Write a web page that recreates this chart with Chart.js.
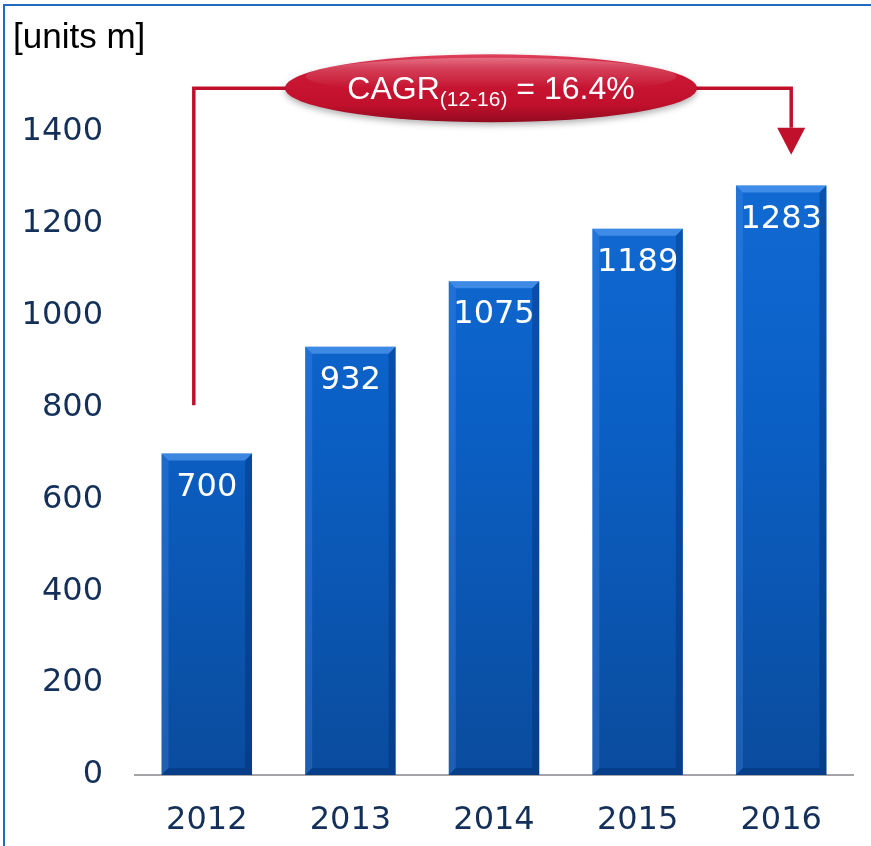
<!DOCTYPE html>
<html>
<head>
<meta charset="utf-8">
<script src="https://cdn.jsdelivr.net/npm/chart.js@4"></script>
<style>
  html, body { margin: 0; padding: 0; background: #fff; }
  #wrap { position: relative; width: 871px; height: 846px; }
  #frame { position: absolute; left: 3px; top: 4px; right: 0; bottom: 0;
           border-left: 2px solid #1f6cbf; border-top: 2px solid #1f6cbf; pointer-events: none; }
  #unit { position: absolute; left: 13px; top: 16px; font: 35px "Liberation Sans", Arial, sans-serif; color: #000; }
</style>
</head>
<body>
<div id="wrap">
  <canvas id="myChart" width="871" height="846"></canvas>
  <div id="frame"></div>
  <div id="unit">[units m]</div>
</div>
<script>
const years = ['2012', '2013', '2014', '2015', '2016'];
const units = [700, 932, 1075, 1189, 1283];
const yTicks = [0, 200, 400, 600, 800, 1000, 1200, 1400];
const cagrText = ['CAGR', '(12-16)', ' = 16.4%'];

const navy = '#14305a';
const red = '#c1102c';
const dejavu = '"DejaVu Sans", Verdana, sans-serif';

// bevels, value labels and the CAGR connector
const extras = {
    id: 'extras',
    afterDatasetsDraw(chart) {
        const c = chart.ctx;
        const meta = chart.getDatasetMeta(0);
        const b = 7;
        meta.data.forEach((bar, i) => {
            const l = bar.x - bar.width / 2, r = bar.x + bar.width / 2;
            const t = bar.y, bt = bar.base;
            c.save();
            c.fillStyle = 'rgba(110,175,255,0.5)';
            c.beginPath(); c.moveTo(l, t); c.lineTo(r, t); c.lineTo(r - b, t + b); c.lineTo(l + b, t + b); c.closePath(); c.fill();
            c.fillStyle = 'rgba(90,150,240,0.25)';
            c.beginPath(); c.moveTo(l, t); c.lineTo(l + b, t + b); c.lineTo(l + b, bt - b); c.lineTo(l, bt); c.closePath(); c.fill();
            c.fillStyle = 'rgba(0,30,90,0.3)';
            c.beginPath(); c.moveTo(r, t); c.lineTo(r - b, t + b); c.lineTo(r - b, bt - b); c.lineTo(r, bt); c.closePath(); c.fill();
            c.fillStyle = 'rgba(0,30,90,0.3)';
            c.beginPath(); c.moveTo(l, bt); c.lineTo(l + b, bt - b); c.lineTo(r - b, bt - b); c.lineTo(r, bt); c.closePath(); c.fill();
            c.fillStyle = '#fff';
            c.font = '32px ' + dejavu;
            c.textAlign = 'center';
            c.textBaseline = 'middle';
            c.fillText(String(units[i]), bar.x, t + 34);
            c.restore();
        });

        const xs = chart.scales.x, ys = chart.scales.y;
        const x0 = xs.getPixelForValue(0) - 13;
        const x4 = xs.getPixelForValue(4) + 10;
        const yLine = ys.getPixelForValue(1495);
        const yStart = ys.getPixelForValue(805);
        const yHead = ys.getPixelForValue(1409);
        const yTip = ys.getPixelForValue(1350);
        const cx = (chart.chartArea.left + chart.chartArea.right) / 2 - 3;
        const rx = 206, ry = 34;

        c.save();
        c.strokeStyle = red;
        c.lineWidth = 3.5;
        c.beginPath();
        c.moveTo(x0, yStart); c.lineTo(x0, yLine); c.lineTo(x4, yLine); c.lineTo(x4, yHead);
        c.stroke();
        c.fillStyle = red;
        c.beginPath();
        c.moveTo(x4 - 14, yHead); c.lineTo(x4 + 14, yHead); c.lineTo(x4, yTip); c.closePath(); c.fill();

        c.save();
        c.shadowColor = 'rgba(0,0,0,0.3)';
        c.shadowBlur = 6;
        c.shadowOffsetY = 3;
        const g = c.createLinearGradient(0, yLine - ry, 0, yLine + ry);
        g.addColorStop(0, '#e0435e');
        g.addColorStop(0.2, '#cc1836');
        g.addColorStop(0.75, '#c0102c');
        g.addColorStop(1, '#920b20');
        c.fillStyle = g;
        c.beginPath(); c.ellipse(cx, yLine, rx, ry, 0, 0, Math.PI * 2); c.fill();
        c.restore();
        const h = c.createLinearGradient(0, yLine - ry, 0, yLine);
        h.addColorStop(0, 'rgba(255,255,255,0.3)');
        h.addColorStop(1, 'rgba(255,255,255,0)');
        c.fillStyle = h;
        c.beginPath(); c.ellipse(cx, yLine - ry * 0.35, rx * 0.9, ry * 0.55, 0, 0, Math.PI * 2); c.fill();

        c.fillStyle = '#fff';
        c.textBaseline = 'alphabetic';
        c.textAlign = 'left';
        const big = '32px "Liberation Sans", Arial, sans-serif';
        const small = '21px "Liberation Sans", Arial, sans-serif';
        c.font = big; const w1 = c.measureText(cagrText[0]).width;
        c.font = small; const w2 = c.measureText(cagrText[1]).width;
        c.font = big; const w3 = c.measureText(cagrText[2]).width;
        let tx = cx - (w1 + w2 + w3) / 2;
        const base = yLine + 11;
        c.font = big; c.fillText(cagrText[0], tx, base); tx += w1;
        c.font = small; c.fillText(cagrText[1], tx, base + 7); tx += w2;
        c.font = big; c.fillText(cagrText[2], tx, base);
        c.restore();
    }
};

const ctx = document.getElementById('myChart').getContext('2d');
const myChart = new Chart(ctx, {
    type: 'bar',
    data: {
        labels: years,
        datasets: [{
            data: units,
            backgroundColor: (context) => {
                const area = context.chart.chartArea;
                if (!area) return '#0b5cc0';
                const g = context.chart.ctx.createLinearGradient(0, area.top, 0, area.bottom);
                g.addColorStop(0, '#1470da');
                g.addColorStop(0.5, '#0b60c6');
                g.addColorStop(1, '#0a4c9e');
                return g;
            },
            borderWidth: 0,
            barPercentage: 0.63,
            categoryPercentage: 1
        }]
    },
    options: {
        responsive: false,
        animation: false,
        layout: { padding: { top: 40, right: 18, left: 0, bottom: 0 } },
        scales: {
            y: {
                min: 0,
                max: 1600,
                afterBuildTicks: (scale) => { scale.ticks = yTicks.map(v => ({ value: v })); },
                afterFit: (scale) => { scale.width = 135; scale.paddingTop = 0; scale.paddingBottom = 0; },
                grid: { display: false, drawTicks: false },
                border: { display: false },
                ticks: {
                    padding: 32,
                    color: navy,
                    callback: (v) => String(v),
                    font: { family: dejavu, size: 32 }
                }
            },
            x: {
                afterFit: (scale) => { scale.height = 71; },
                grid: { display: false, drawTicks: false },
                border: { display: true, color: '#a3a3a8', width: 2 },
                ticks: {
                    padding: 26,
                    color: navy,
                    font: { family: dejavu, size: 32 }
                }
            }
        },
        plugins: {
            legend: { display: false },
            tooltip: { enabled: false }
        }
    },
    plugins: [extras]
});
</script>
</body>
</html>
